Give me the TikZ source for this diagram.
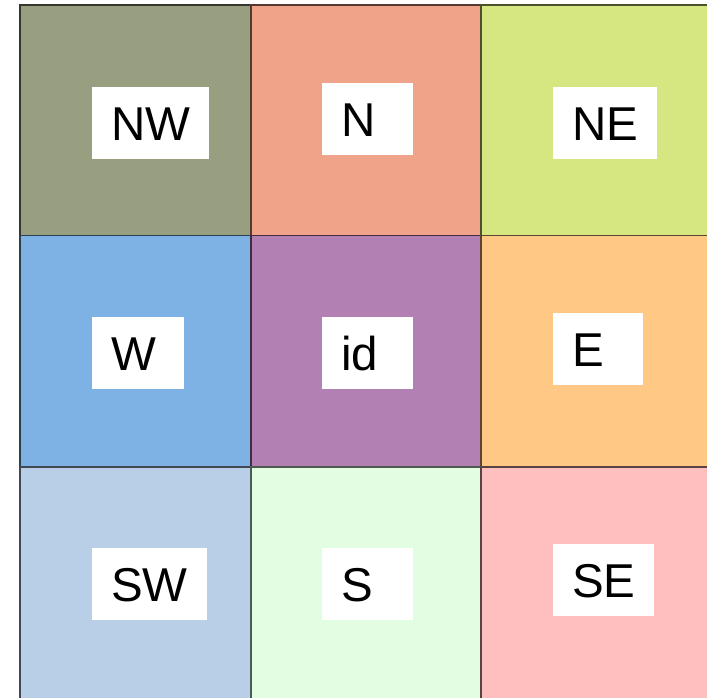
\documentclass[tikz,border=0pt]{standalone}
\usepackage{fontspec}
\setmainfont{Liberation Sans}
\definecolor{cnw}{HTML}{989E80}
\definecolor{cn}{HTML}{EFA388}
\definecolor{cne}{HTML}{D6E680}
\definecolor{cw}{HTML}{7EB2E4}
\definecolor{cid}{HTML}{B380B3}
\definecolor{ce}{HTML}{FFC885}
\definecolor{csw}{HTML}{B9CFE8}
\definecolor{cs}{HTML}{E3FDE3}
\definecolor{cse}{HTML}{FFBFBF}
\tikzset{
  cell/.style={draw=#1!35!black, fill=#1, line width=1.2pt, minimum width=231pt, minimum height=231pt, anchor=north west, inner sep=0pt, outer sep=0pt},
  lab/.style={fill=white, inner xsep=19pt, inner ysep=0pt, minimum height=72pt, text width=#1, align=left, text height=34.5pt, text depth=0pt, font=\fontsize{47.5}{47.5}\selectfont}
}
\begin{document}
\begin{tikzpicture}[x=1pt, y=-1pt]
\useasboundingbox (0,0) rectangle (707,697);
\begin{scope}
\clip (0,0) rectangle (707,697);
\node[cell=cnw] (cNW) at (20,5) {};
\node[cell=cn] (cN) at (251,5) {};
\node[cell=cne, minimum width=260pt] (cNE) at (481,5) {};
\node[cell=cw] (cW) at (20,235.5) {};
\node[cell=cid] (cID) at (251,235.5) {};
\node[cell=ce, minimum width=260pt] (cE) at (481,235.5) {};
\node[cell=csw, minimum height=260pt] (cSW) at (20,467) {};
\node[cell=cs, minimum height=260pt] (cS) at (251,467) {};
\node[cell=cse, minimum width=260pt, minimum height=260pt] (cSE) at (481,467) {};
\end{scope}
\node[lab=79pt] (lNW) at (150.5,123) {NW};
\node[lab=53pt] (lN) at (367.5,119) {N};
\node[lab=66pt] (lNE) at (605,123) {NE};
\node[lab=54pt] (lW) at (138,353) {W};
\node[lab=53pt] (lID) at (367.5,353) {id};
\node[lab=52pt] (lE) at (598,349) {E};
\node[lab=77pt] (lSW) at (149.5,584) {SW};
\node[lab=53pt] (lS) at (367.5,584) {S};
\node[lab=63pt] (lSE) at (603.5,580) {SE};
\end{tikzpicture}
\end{document}
